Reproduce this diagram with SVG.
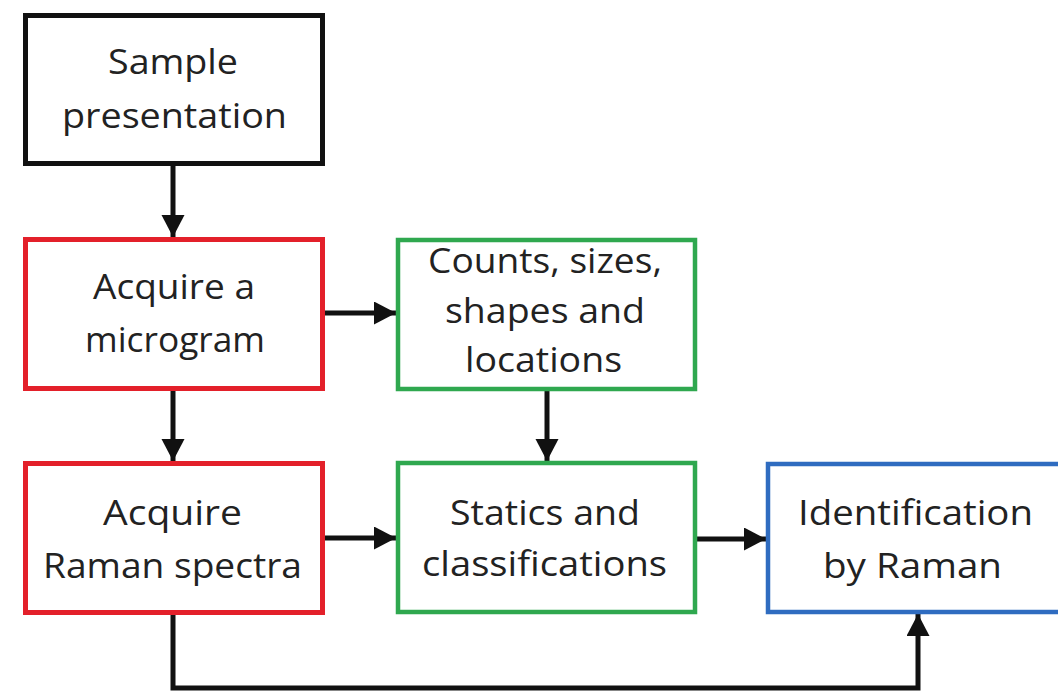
<svg xmlns="http://www.w3.org/2000/svg" width="1058" height="693" viewBox="0 0 1058 693">
<defs>
<style>
.box{fill:#fff;}
.blk{stroke:#111;stroke-width:5;}
.red{stroke:#e3202a;stroke-width:5;}
.grn{stroke:#2fa84f;stroke-width:4.5;}
.blu{stroke:#2f6cc0;stroke-width:4.5;}
text{font-family:"Open Sans","Noto Sans",sans-serif;font-size:35px;fill:#222;text-anchor:middle;}
.con{fill:none;stroke:#111;stroke-width:5;}
</style>
<marker id="ah" markerUnits="userSpaceOnUse" markerWidth="24" markerHeight="24" refX="22" refY="11.5" orient="auto" viewBox="0 0 24 24">
<path d="M0,0 L22,11.5 L0,23 Z" fill="#111"/>
</marker>
</defs>
<rect width="1058" height="693" fill="#fff"/>
<g id="connectors">
<line class="con" x1="173" y1="166" x2="173" y2="237" marker-end="url(#ah)"/>
<line class="con" x1="173" y1="391" x2="173" y2="461" marker-end="url(#ah)"/>
<line class="con" x1="325" y1="313" x2="396" y2="313" marker-end="url(#ah)"/>
<line class="con" x1="547" y1="391" x2="547" y2="461" marker-end="url(#ah)"/>
<line class="con" x1="325" y1="538" x2="396" y2="538" marker-end="url(#ah)"/>
<line class="con" x1="697" y1="539" x2="766" y2="539" marker-end="url(#ah)"/>
<path class="con" d="M173,615 V688 H918 V614" marker-end="url(#ah)"/>
</g>
<g id="sample">
<rect class="box blk" x="25.5" y="15.5" width="297" height="148"/>
<text x="173" y="74" textLength="130" lengthAdjust="spacingAndGlyphs">Sample</text>
<text x="174.5" y="128" textLength="225" lengthAdjust="spacingAndGlyphs">presentation</text>
</g>
<g id="micrograph">
<rect class="box red" x="25.5" y="239.5" width="297" height="149"/>
<text x="174" y="299" textLength="162" lengthAdjust="spacingAndGlyphs">Acquire a</text>
<text x="175" y="352" textLength="180" lengthAdjust="spacingAndGlyphs">microgram</text>
</g>
<g id="raman">
<rect class="box red" x="25.5" y="463.5" width="297" height="149"/>
<text x="172.5" y="525" textLength="139" lengthAdjust="spacingAndGlyphs">Acquire</text>
<text x="172.5" y="578" textLength="259" lengthAdjust="spacingAndGlyphs">Raman spectra</text>
</g>
<g id="counts">
<rect class="box grn" x="398" y="240" width="297" height="149"/>
<text x="545" y="273" textLength="234" lengthAdjust="spacingAndGlyphs">Counts, sizes,</text>
<text x="545" y="323" textLength="200" lengthAdjust="spacingAndGlyphs">shapes and</text>
<text x="543.5" y="372" textLength="157" lengthAdjust="spacingAndGlyphs">locations</text>
</g>
<g id="statics">
<rect class="box grn" x="398" y="463" width="297" height="149"/>
<text x="545" y="525" textLength="190" lengthAdjust="spacingAndGlyphs">Statics and</text>
<text x="544.5" y="576" textLength="245" lengthAdjust="spacingAndGlyphs">classifications</text>
</g>
<g id="identification">
<rect class="box blu" x="768" y="464" width="302" height="148"/>
<text x="915.5" y="525" textLength="235" lengthAdjust="spacingAndGlyphs">Identification</text>
<text x="912.5" y="578" textLength="179" lengthAdjust="spacingAndGlyphs">by Raman</text>
</g>
</svg>
